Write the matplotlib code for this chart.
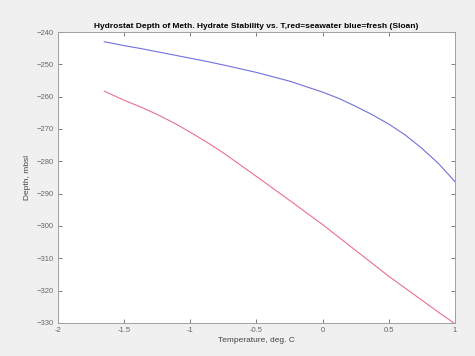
import numpy as np
import matplotlib.pyplot as plt

# values
temp = [-1.65, -1.5, -1.375, -1.25, -1.125, -1.0, -0.875, -0.75, -0.5, -0.25,
        0.0, 0.125, 0.25, 0.375, 0.5, 0.625, 0.75, 0.875, 1.0]
depth_fresh = [-243.0, -244.2, -245.1, -246.1, -247.1, -248.1, -249.1, -250.2,
               -252.5, -255.2, -258.6, -260.6, -263.0, -265.6, -268.5, -271.9,
               -276.0, -280.7, -286.3]
depth_sea = [-258.3, -261.1, -263.2, -265.5, -268.1, -271.0, -274.1, -277.4,
             -284.7, -292.1, -299.6, -303.6, -307.6, -311.6, -315.6, -319.3,
             -323.0, -326.7, -330.3]
xticks = [-2, -1.5, -1, -0.5, 0, 0.5, 1]
yticks = [-240, -250, -260, -270, -280, -290, -300, -310, -320, -330]

plt.rcParams['font.family'] = ['Liberation Sans', 'DejaVu Sans']

fig = plt.figure(figsize=(4.75, 3.56), dpi=100, facecolor='#f0f0f0')
ax = fig.add_axes([0.122, 0.093, 0.836, 0.817])
ax.set_facecolor('white')

ax.plot(temp, depth_fresh, color='#7070dc', lw=0.8)
ax.plot(temp, depth_sea, color='#e8708a', lw=0.8)

ax.set_xlim(-2, 1)
ax.set_ylim(-330, -240)
ax.set_xticks(xticks)
ax.set_xticklabels(['-2', '-1.5', '-1', '-0.5', '0', '0.5', '1'])
ax.set_yticks(yticks)
ax.tick_params(direction='in', top=True, right=True, labelsize=5.5,
               length=3, width=0.6, colors='#666666', pad=3)
for s in ax.spines.values():
    s.set_color('#a0a0a0')
    s.set_linewidth(0.7)

ax.set_title('Hydrostat Depth of Meth. Hydrate Stability vs. T,red=seawater blue=fresh (Sloan)',
             fontsize=6, fontweight='bold', pad=3)
ax.set_xlabel('Temperature, deg. C', fontsize=6, color='#444444', labelpad=2)
ax.set_ylabel('Depth, mbsl', fontsize=6, color='#444444', labelpad=4)

fig.savefig('out.png', dpi=100, facecolor=fig.get_facecolor())
